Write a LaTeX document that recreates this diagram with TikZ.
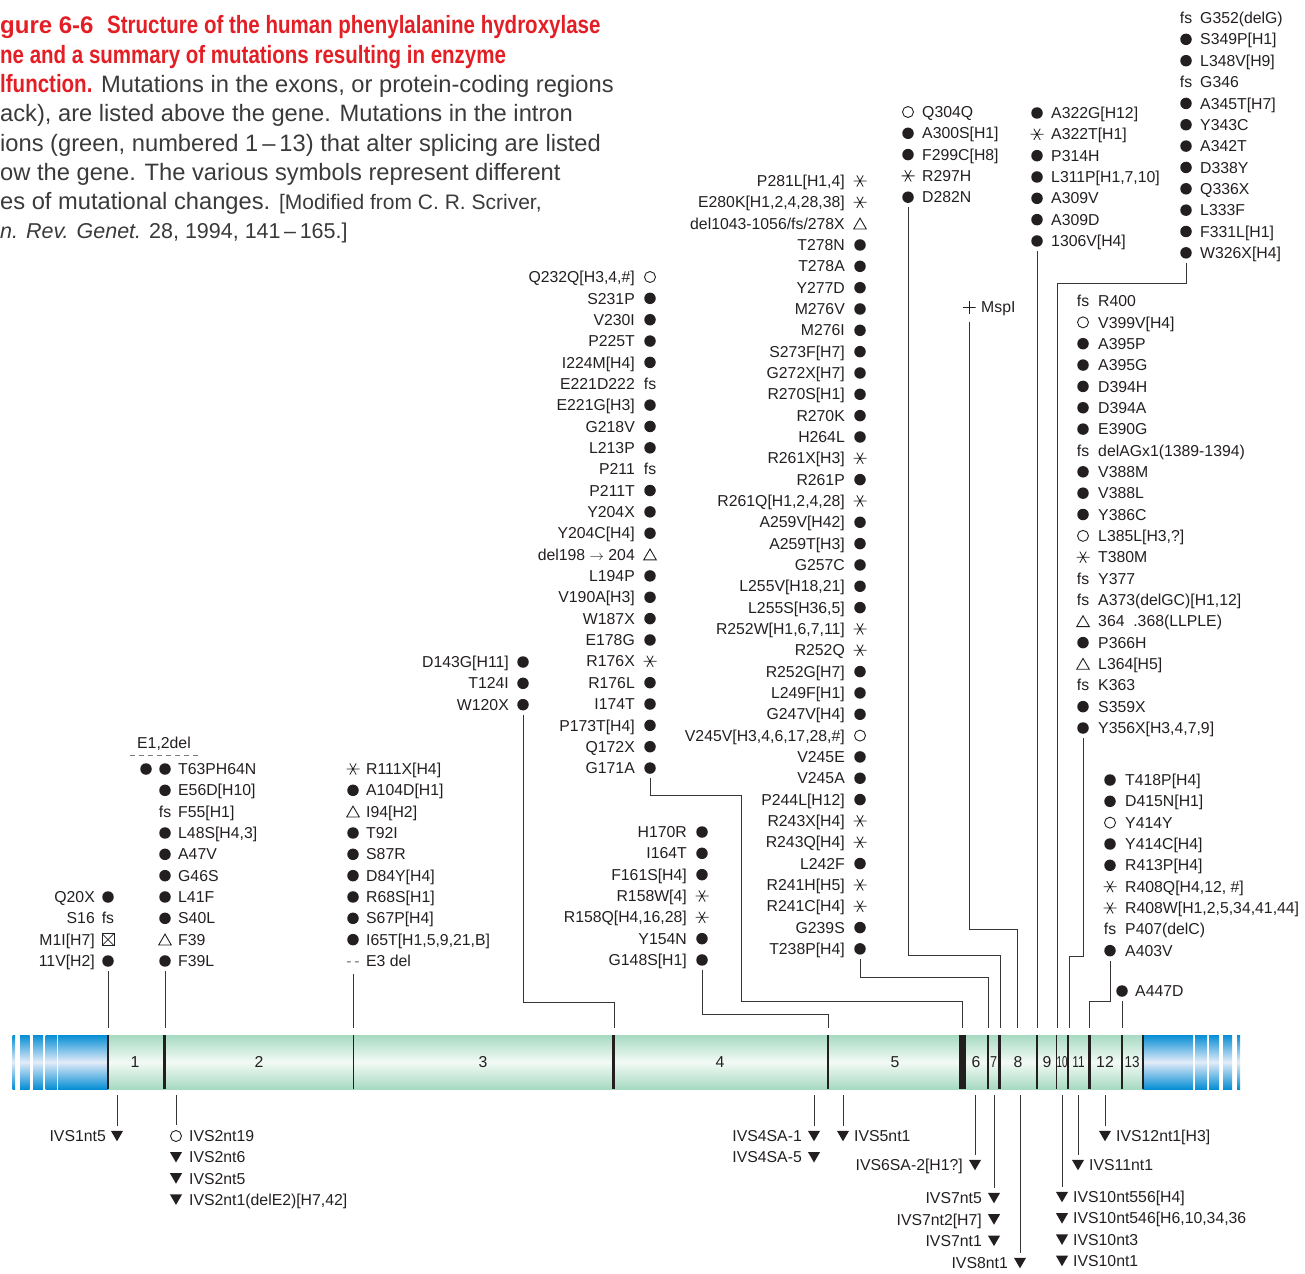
\documentclass[tikz,border=0pt]{standalone}
\usepackage{fontspec}
\setmainfont{Liberation Sans}
\newfontfamily\condb{Liberation Sans}[FakeStretch=0.82]
\usetikzlibrary{shapes.geometric}
\definecolor{ink}{HTML}{231F20}
\definecolor{tred}{HTML}{E31E24}
\definecolor{tgray}{HTML}{3A3A3A}
\definecolor{gmint}{HTML}{A6DAC1}
\definecolor{gwhite}{HTML}{F3FAF6}
\definecolor{bblue}{HTML}{068ED5}
\definecolor{bwhite}{HTML}{E2EBF8}
\tikzset{
 lbl/.style={font=\fontsize{15.8}{18}\selectfont, text=ink, inner sep=0pt, text height=11.3pt, text depth=0pt},
 symdot/.style={circle, fill=ink, inner sep=0pt, minimum size=11.5pt},
 symoc/.style={circle, draw=ink, line width=0.9pt, inner sep=0pt, minimum size=11pt},
 symtri/.style={regular polygon, regular polygon sides=3, draw=ink, line width=0.9pt, inner sep=0pt, minimum size=14.5pt, yshift=-1.7pt},
 symdtri/.style={regular polygon, regular polygon sides=3, shape border rotate=180, fill=ink, inner sep=0pt, minimum size=14pt, yshift=1.7pt},
 symast/.style={circle, inner sep=0pt, minimum size=14pt, path picture={\draw[ink, line width=0.8pt] (path picture bounding box.center) +(-6.5pt,0pt) -- +(6.5pt,0pt) +(-3.2pt,5.6pt) -- +(3.2pt,-5.6pt) +(3.2pt,5.6pt) -- +(-3.2pt,-5.6pt);}},
 symbox/.style={rectangle, draw=ink, line width=0.8pt, inner sep=0pt, minimum size=12pt, path picture={\draw[ink, line width=0.8pt] (path picture bounding box.south west) -- (path picture bounding box.north east) (path picture bounding box.north west) -- (path picture bounding box.south east);}},
 symplus/.style={rectangle, inner sep=0pt, minimum size=13pt, path picture={\draw[ink, line width=0.8pt] (path picture bounding box.west) -- (path picture bounding box.east) (path picture bounding box.north) -- (path picture bounding box.south);}},
 symfs/.style={lbl},
 symdd/.style={lbl, text=ink!60},
 conn/.style={draw=ink!90, line width=0.85pt},
 captxt/.style={anchor=base west, inner sep=0pt, text=tgray, font=\fontsize{23.7}{26}\selectfont},
 capred/.style={anchor=base west, inner sep=0pt, text=tred, font=\condb\bfseries\fontsize{25}{28}\selectfont},
 exnum/.style={lbl},
}
\def\symtxtfs{fs}
\def\symtxtdd{-\,-}
\newcommand\colset[5]{\xdef\cx{#1}\xdef\cy{#2}\xdef\dy{#3}\xdef\cn{#4}\xdef\off{#5}\xdef\ci{0}}
\newcommand\nextrow{\pgfmathtruncatemacro\tmpi{\ci+1}\xdef\ci{\tmpi}}
\newcommand\advrow{\pgfmathparse{\cy+\dy}\xdef\cy{\pgfmathresult}}
\newcommand\RR[2]{\nextrow
 \node[sym#1] (\cn\ci) at (\cx,\cy) {\csname symtxt#1\endcsname};
 \node[lbl,anchor=east] (\cn\ci t) at (\cx-\off,\cy) {#2};
 \advrow}
\newcommand\LL[2]{\nextrow
 \node[sym#1] (\cn\ci) at (\cx,\cy) {\csname symtxt#1\endcsname};
 \node[lbl,anchor=west] (\cn\ci t) at (\cx+\off,\cy) {#2};
 \advrow}
\begin{document}
\begin{tikzpicture}[x=1pt,y=-1pt]
\useasboundingbox (0,0) rectangle (1305,1273);
\begin{scope}
\clip (0,0) rectangle (1305,1273);
% ---------- caption ----------
\node[anchor=base west, inner sep=0pt, text=tred, font=\bfseries\fontsize{24}{26}\selectfont] (ttl0) at (0,34) {gure 6-6};
\node[capred] (ttl1) at (107,33.5) {Structure of the human phenylalanine hydroxylase};
\node[capred] (ttl2) at (0,63.5) {ne and a summary of mutations resulting in enzyme};
\node[captxt] (ttl3) at (0,92.5) {{\condb\bfseries\fontsize{25}{28}\selectfont\color{tred}lfunction.} Mutations in the exons, or protein-coding regions};
\node[captxt] (ttl4) at (0,121.8) {ack), are listed above the gene. Mutations in the intron};
\node[captxt] (ttl5) at (0,151.1) {ions (green, numbered 1\,–\,13) that alter splicing are listed};
\node[captxt] (ttl6) at (0,180.4) {ow the gene. The various symbols represent different};
\node[captxt] (ttl7) at (0,209.7) {es of mutational changes. {\fontsize{21}{24}\selectfont [Modified from C. R. Scriver,}};
\node[captxt, font=\fontsize{21.5}{24}\selectfont] (ttl8) at (0,239) {\textit{n. Rev. Genet.} 28, 1994, 141\,–\,165.]};
% ---------- gene bar ----------
\shade[top color=gmint, bottom color=gmint, middle color=gwhite] (108,1035) rectangle (1143,1089);
\foreach \a/\b in {12.6/15, 20/29.5, 33/43, 45.5/57, 58/108, 1143/1193, 1195/1207, 1209/1219, 1223/1232, 1237/1240}
  \shade[top color=bblue, bottom color=bblue, middle color=bwhite] (\a,1035) rectangle (\b,1089);
\foreach \x/\w in {108/2, 164.5/3.5, 353.5/1.5, 613.5/3.5, 828/1.5, 962.5/7, 988/1.5, 999.5/3, 1037/1.5, 1056.5/1.5, 1068/1.5, 1089.5/3.5, 1122/1.5, 1143/1.8}
  \draw[ink, line width=\w pt] (\x,1035) -- (\x,1089);
\node[exnum] (ex1) at (135,1062) {1};
\node[exnum] (ex2) at (259,1062) {2};
\node[exnum] (ex3) at (483,1062) {3};
\node[exnum] (ex4) at (720,1062) {4};
\node[exnum] (ex5) at (895,1062) {5};
\node[exnum] (ex6) at (976,1062) {6};
\node[exnum] (ex7) at (993.5,1062) {\scalebox{0.8}[1]{7}};
\node[exnum] (ex8) at (1018,1062) {8};
\node[exnum] (ex9) at (1047,1062) {9};
\node[exnum] (ex10) at (1062,1062) {\scalebox{0.62}[1]{10}};
\node[exnum] (ex11) at (1078.5,1062) {\scalebox{0.75}[1]{11}};
\node[exnum] (ex12) at (1105,1062) {12};
\node[exnum] (ex13) at (1132,1062) {\scalebox{0.85}[1]{13}};
% ---------- upper mutation columns ----------
\colset{108}{897}{21.33}{cA}{13}
\RR{dot}{Q20X} \RR{fs}{S16} \RR{box}{M1I[H7]} \RR{dot}{11V[H2]}
\colset{165}{769}{21.33}{cB}{13}
\LL{dot}{T63PH64N} \LL{dot}{E56D[H10]} \LL{fs}{F55[H1]} \LL{dot}{L48S[H4,3]} \LL{dot}{A47V}
\LL{dot}{G46S} \LL{dot}{L41F} \LL{dot}{S40L} \LL{tri}{F39} \LL{dot}{F39L}
\node[symdot] (cB1x) at (146,769) {};
\node[lbl, anchor=west] (e12) at (137,743) {E1,2del};
\draw[ink!60, line width=0.8pt, dash pattern=on 5pt off 4pt] (130,755) -- (201,755);
\colset{353}{769}{21.33}{cC}{13}
\LL{ast}{R111X[H4]} \LL{dot}{A104D[H1]} \LL{tri}{I94[H2]} \LL{dot}{T92I} \LL{dot}{S87R}
\LL{dot}{D84Y[H4]} \LL{dot}{R68S[H1]} \LL{dot}{S67P[H4]} \LL{dot}{I65T[H1,5,9,21,B]} \LL{dd}{E3 del}
\colset{523}{662}{21.33}{cD}{14}
\RR{dot}{D143G[H11]} \RR{dot}{T124I} \RR{dot}{W120X}
\colset{650}{277}{21.35}{cE}{15}
\RR{oc}{Q232Q[H3,4,\#]} \RR{dot}{S231P} \RR{dot}{V230I} \RR{dot}{P225T} \RR{dot}{I224M[H4]}
\RR{fs}{E221D222} \RR{dot}{E221G[H3]} \RR{dot}{G218V} \RR{dot}{L213P} \RR{fs}{P211}
\RR{dot}{P211T} \RR{dot}{Y204X} \RR{dot}{Y204C[H4]} \RR{tri}{del198 $\rightarrow$ 204} \RR{dot}{L194P}
\RR{dot}{V190A[H3]} \RR{dot}{W187X} \RR{dot}{E178G} \RR{ast}{R176X} \RR{dot}{R176L}
\RR{dot}{I174T} \RR{dot}{P173T[H4]} \RR{dot}{Q172X} \RR{dot}{G171A}
\colset{702}{832}{21.33}{cF}{15}
\RR{dot}{H170R} \RR{dot}{I164T} \RR{dot}{F161S[H4]} \RR{ast}{R158W[4]} \RR{ast}{R158Q[H4,16,28]}
\RR{dot}{Y154N} \RR{dot}{G148S[H1]}
\colset{860}{181}{21.33}{cG}{15}
\RR{ast}{P281L[H1,4]} \RR{ast}{E280K[H1,2,4,28,38]} \RR{tri}{del1043-1056/fs/278X} \RR{dot}{T278N}
\RR{dot}{T278A} \RR{dot}{Y277D} \RR{dot}{M276V} \RR{dot}{M276I} \RR{dot}{S273F[H7]}
\RR{dot}{G272X[H7]} \RR{dot}{R270S[H1]} \RR{dot}{R270K} \RR{dot}{H264L} \RR{ast}{R261X[H3]}
\RR{dot}{R261P} \RR{ast}{R261Q[H1,2,4,28]} \RR{dot}{A259V[H42]} \RR{dot}{A259T[H3]} \RR{dot}{G257C}
\RR{dot}{L255V[H18,21]} \RR{dot}{L255S[H36,5]} \RR{ast}{R252W[H1,6,7,11]} \RR{ast}{R252Q}
\RR{dot}{R252G[H7]} \RR{dot}{L249F[H1]} \RR{dot}{G247V[H4]} \RR{oc}{V245V[H3,4,6,17,28,\#]}
\RR{dot}{V245E} \RR{dot}{V245A} \RR{dot}{P244L[H12]} \RR{ast}{R243X[H4]} \RR{ast}{R243Q[H4]}
\RR{dot}{L242F} \RR{ast}{R241H[H5]} \RR{ast}{R241C[H4]} \RR{dot}{G239S} \RR{dot}{T238P[H4]}
\colset{908}{112}{21.3}{cH}{14}
\LL{oc}{Q304Q} \LL{dot}{A300S[H1]} \LL{dot}{F299C[H8]} \LL{ast}{R297H} \LL{dot}{D282N}
\colset{1037}{113}{21.33}{cI}{14}
\LL{dot}{A322G[H12]} \LL{ast}{A322T[H1]} \LL{dot}{P314H} \LL{dot}{L311P[H1,7,10]} \LL{dot}{A309V}
\LL{dot}{A309D} \LL{dot}{1306V[H4]}
\colset{1186}{18}{21.35}{cJ}{14}
\LL{fs}{G352(delG)} \LL{dot}{S349P[H1]} \LL{dot}{L348V[H9]} \LL{fs}{G346} \LL{dot}{A345T[H7]}
\LL{dot}{Y343C} \LL{dot}{A342T} \LL{dot}{D338Y} \LL{dot}{Q336X} \LL{dot}{L333F}
\LL{dot}{F331L[H1]} \LL{dot}{W326X[H4]}
\colset{1083}{301}{21.35}{cK}{15}
\LL{fs}{R400} \LL{oc}{V399V[H4]} \LL{dot}{A395P} \LL{dot}{A395G} \LL{dot}{D394H}
\LL{dot}{D394A} \LL{dot}{E390G} \LL{fs}{delAGx1(1389-1394)} \LL{dot}{V388M} \LL{dot}{V388L}
\LL{dot}{Y386C} \LL{oc}{L385L[H3,?]} \LL{ast}{T380M} \LL{fs}{Y377} \LL{fs}{A373(delGC)[H1,12]}
\LL{tri}{364\ \ .368(LLPLE)} \LL{dot}{P366H} \LL{tri}{L364[H5]} \LL{fs}{K363} \LL{dot}{S359X}
\LL{dot}{Y356X[H3,4,7,9]}
\colset{1110}{780}{21.33}{cL}{15}
\LL{dot}{T418P[H4]} \LL{dot}{D415N[H1]} \LL{oc}{Y414Y} \LL{dot}{Y414C[H4]} \LL{dot}{R413P[H4]}
\LL{ast}{R408Q[H4,12, \#]} \LL{ast}{R408W[H1,2,5,34,41,44]} \LL{fs}{P407(delC)} \LL{dot}{A403V}
\colset{1122}{991}{21.33}{cM}{13}
\LL{dot}{A447D}
\colset{969}{307}{21.33}{cN}{12}
\LL{plus}{MspI}
% ---------- lower (intron) columns ----------
\colset{117}{1136}{21}{bA}{11}
\RR{dtri}{IVS1nt5}
\colset{176}{1136}{21.2}{bB}{13}
\LL{oc}{IVS2nt19} \LL{dtri}{IVS2nt6} \LL{dtri}{IVS2nt5} \LL{dtri}{IVS2nt1(delE2)[H7,42]}
\colset{814}{1136}{21.2}{bC}{12}
\RR{dtri}{IVS4SA-1} \RR{dtri}{IVS4SA-5}
\colset{843}{1136}{21}{bD}{11}
\LL{dtri}{IVS5nt1}
\colset{975}{1165}{21}{bE}{12}
\RR{dtri}{IVS6SA-2[H1?]}
\colset{994}{1198}{21.4}{bF}{12}
\RR{dtri}{IVS7nt5} \RR{dtri}{IVS7nt2[H7]} \RR{dtri}{IVS7nt1}
\colset{1020}{1263}{21}{bG}{12}
\RR{dtri}{IVS8nt1}
\colset{1062}{1197}{21.3}{bH}{11}
\LL{dtri}{IVS10nt556[H4]} \LL{dtri}{IVS10nt546[H6,10,34,36} \LL{dtri}{IVS10nt3} \LL{dtri}{IVS10nt1}
\colset{1078}{1165}{21}{bI}{11}
\LL{dtri}{IVS11nt1}
\colset{1105}{1136}{21}{bJ}{11}
\LL{dtri}{IVS12nt1[H3]}
% ---------- connectors ----------
\coordinate (tb) at (0,1028);
\coordinate (bb) at (0,1095);
\coordinate (hD) at (0,1002);  \coordinate (tD) at (614,1028);
\coordinate (hE) at (0,795);   \coordinate (kE) at (741,1001); \coordinate (tE) at (962,1028);
\coordinate (hF) at (0,1014);  \coordinate (tF) at (828.5,1028);
\coordinate (hG) at (0,977);   \coordinate (tG) at (988.5,1028);
\coordinate (hH) at (0,955);   \coordinate (tH) at (1000,1028);
\coordinate (hN) at (0,929);   \coordinate (tN) at (1017,1028);
\coordinate (hJ) at (0,283);   \coordinate (tJ) at (1057,1028);
\coordinate (hK) at (0,956);   \coordinate (tK) at (1069,1028);
\coordinate (hL) at (0,1001);  \coordinate (tL) at (1089,1028);
\draw[conn] ([yshift=-4pt]cA4.south) -- (tb -| cA4);
\draw[conn] ([yshift=-4pt]cB10.south) -- (tb -| cB10);
\draw[conn] ([yshift=-7pt]cC10.south) -- (tb -| cC10);
\draw[conn] ([yshift=-4pt]cD3.south) -- (cD3 |- hD) -| (tD);
\draw[conn] ([yshift=-4pt]cE24.south) -- (cE24 |- hE) -| (kE) -| (tE);
\draw[conn] ([yshift=-4pt]cF7.south) -- (cF7 |- hF) -| (tF);
\draw[conn] ([yshift=-4pt]cG37.south) -- (cG37 |- hG) -| (tG);
\draw[conn] ([yshift=-4pt]cH5.south) -- (cH5 |- hH) -| (tH);
\draw[conn] ([yshift=-8pt]cN1.south) -- (cN1 |- hN) -| (tN);
\draw[conn] ([yshift=-4pt]cI7.south) -- (tb -| cI7);
\draw[conn] ([yshift=-4pt]cJ12.south) -- (cJ12 |- hJ) -| (tJ);
\draw[conn] ([yshift=-4pt]cK21.south) -- (cK21 |- hK) -| (tK);
\draw[conn] ([yshift=-4pt]cL9.south) -- (cL9 |- hL) -| (tL);
\draw[conn] ([yshift=-4pt]cM1.south) -- (tb -| cM1);
\draw[conn] (bb -| bA1) -- ([yshift=5pt]bA1.north);
\draw[conn] (bb -| bB1) -- ([yshift=5pt]bB1.north);
\draw[conn] (bb -| bC1) -- ([yshift=5pt]bC1.north);
\draw[conn] (bb -| bD1) -- ([yshift=5pt]bD1.north);
\draw[conn] (bb -| bE1) -- ([yshift=5pt]bE1.north);
\draw[conn] (bb -| bF1) -- ([yshift=5pt]bF1.north);
\draw[conn] (bb -| bG1) -- ([yshift=5pt]bG1.north);
\draw[conn] (bb -| bH1) -- ([yshift=5pt]bH1.north);
\draw[conn] (bb -| bI1) -- ([yshift=5pt]bI1.north);
\draw[conn] (bb -| bJ1) -- ([yshift=5pt]bJ1.north);
\end{scope}
\end{tikzpicture}
\end{document}
